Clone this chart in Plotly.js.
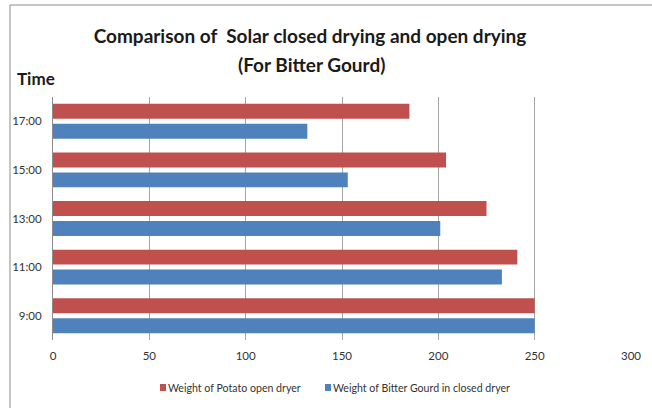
<!DOCTYPE html>
<html>
<head>
<meta charset="utf-8">
<script src="https://cdn.plot.ly/plotly-3.0.1.min.js"></script>
<style>
  html, body { margin: 0; padding: 0; background: #fff; }
  #chart { width: 652px; height: 408px; }
</style>
</head>
<body>
<div id="chart"></div>
<script>
// Drying times (bottom to top on the category axis)
const times = ['9:00', '11:00', '13:00', '15:00', '17:00'];

// Weight readings for each drying method
const openDryer = [250, 241, 225, 204, 185];
const closedDryer = [250, 233, 201, 153, 132];

const seriesNames = ['Weight of Potato open dryer', 'Weight of Bitter Gourd in closed dryer'];
const seriesColors = ['#C0504D', '#4F81BD'];

const xTicks = [0, 50, 100, 150, 200, 250, 300];

// Page geometry (pixels)
const W = 652, H = 408;
const M = { l: 53, r: 21, t: 97, b: 68 };
const PW = W - M.l - M.r, PH = H - M.t - M.b;
const px = x => (x - M.l) / PW;           // pixel x -> paper x
const py = y => (H - M.b - y) / PH;       // pixel y -> paper y

const heading = 'Lato, "Liberation Sans", sans-serif';
const regular = 'Lato, "Liberation Sans", Arial, sans-serif';

// closed dryer first so it sits below the open dryer bar in each group
const traces = [
  {
    type: 'bar', orientation: 'h', name: seriesNames[1],
    x: closedDryer, y: times,
    marker: { color: seriesColors[1] },
    showlegend: false, hoverinfo: 'x+y'
  },
  {
    type: 'bar', orientation: 'h', name: seriesNames[0],
    x: openDryer, y: times,
    marker: { color: seriesColors[0] },
    showlegend: false, hoverinfo: 'x+y'
  }
];

// hand-built legend: small swatches followed by labels
const legendItems = [
  { name: seriesNames[0], color: seriesColors[0], sx: 160, tx: 166 },
  { name: seriesNames[1], color: seriesColors[1], sx: 325, tx: 331 }
];

const shapes = [
  // chart frame
  { type: 'rect', xref: 'paper', yref: 'paper', layer: 'below',
    x0: px(10), x1: px(W + 10), y0: py(H + 10), y1: py(5),
    line: { color: '#8c8c8c', width: 1 }, fillcolor: 'rgba(0,0,0,0)' }
];
legendItems.forEach(it => shapes.push({
  type: 'rect', xref: 'paper', yref: 'paper',
  x0: px(it.sx), x1: px(it.sx + 6), y0: py(391), y1: py(384),
  line: { width: 0 }, fillcolor: it.color
}));

const annotations = [
  { text: '(For Bitter Gourd)', xref: 'paper', yref: 'paper',
    x: px(311), y: py(65), xanchor: 'center', yanchor: 'middle', showarrow: false,
    font: { family: heading, size: 19, color: '#1a1a1a', weight: 'bold' } },
  { text: 'Time', xref: 'paper', yref: 'paper',
    x: px(15), y: py(79), xanchor: 'left', yanchor: 'middle', showarrow: false,
    font: { family: heading, size: 17, color: '#1a1a1a', weight: 'bold' } }
];
legendItems.forEach(it => annotations.push({
  text: it.name, xref: 'paper', yref: 'paper',
  x: px(it.tx), y: py(387.5), xanchor: 'left', yanchor: 'middle', showarrow: false,
  font: { family: regular, size: 10.6, color: '#333' }
}));

const layout = {
  width: W, height: H,
  margin: M,
  paper_bgcolor: '#fff', plot_bgcolor: '#fff',
  title: {
    text: 'Comparison of\u00a0 Solar closed drying and open drying',
    xref: 'container', yref: 'container',
    x: 310 / W, y: 1 - 36 / H, xanchor: 'center', yanchor: 'middle',
    font: { family: heading, size: 19, color: '#1a1a1a', weight: 'bold' }
  },
  barmode: 'group',
  bargap: 0.18,
  bargroupgap: 0.25,
  xaxis: {
    range: [0, 300], tickvals: xTicks, ticktext: xTicks.map(String),
    showgrid: true, gridcolor: '#a6a6a6', gridwidth: 1,
    zeroline: false, showline: false, ticks: '',
    ticklabelstandoff: 7,
    tickfont: { family: regular, size: 11.5, color: '#333' },
    fixedrange: true
  },
  yaxis: {
    type: 'category', categoryorder: 'array', categoryarray: times,
    range: [-0.5, times.length - 0.5],
    showline: true, linecolor: '#8c8c8c', linewidth: 1,
    showgrid: false, zeroline: false, ticks: '',
    ticklabelstandoff: 8,
    tickfont: { family: regular, size: 11.5, color: '#333' },
    fixedrange: true
  },
  shapes: shapes,
  annotations: annotations,
  showlegend: false
};

Plotly.newPlot('chart', traces, layout, { displayModeBar: false, staticPlot: true });
</script>
</body>
</html>
